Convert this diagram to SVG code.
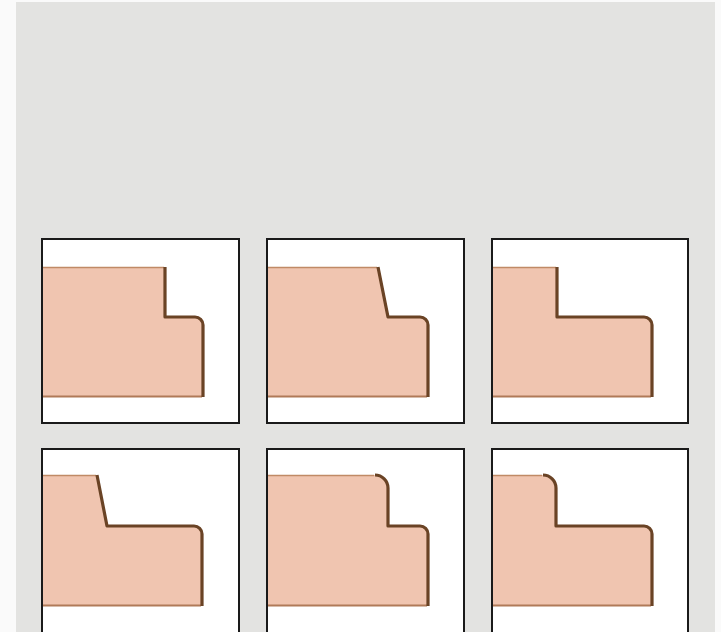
<svg xmlns="http://www.w3.org/2000/svg" width="721" height="632" viewBox="0 0 721 632">
<style>
.panel{fill:#ffffff;stroke:#1a1a1a;stroke-width:2}
.fill{fill:#f0c5b0;stroke:none}
.edge{fill:none;stroke:#6a4325;stroke-width:3.2;stroke-linejoin:round}
.top{fill:none;stroke:#c08a66;stroke-width:1.6}
.bot{fill:none;stroke:#b07a58;stroke-width:1.8}
</style>
<rect x="0" y="0" width="721" height="632" fill="#fafafa"/>
<rect x="16" y="2" width="699" height="630" fill="#e3e3e1"/>
<g id="panel1">
<rect class="panel" x="42" y="239" width="197" height="184"/>
<path class="fill" d="M43,267 H165 V317 H195 A8,8 0 0 1 203,325 V397 H43 Z"/>
<path class="top" d="M43,267.5 H164"/>
<path class="bot" d="M43,396.5 H202"/>
<path class="edge" d="M165,267 V317 H195 A8,8 0 0 1 203,325 V397"/>
</g>
<g id="panel2">
<rect class="panel" x="267" y="239" width="197" height="184"/>
<path class="fill" d="M268,267 H378 L388,317 H420 A8,8 0 0 1 428,325 V397 H268 Z"/>
<path class="top" d="M268,267.5 H377"/>
<path class="bot" d="M268,396.5 H427"/>
<path class="edge" d="M378,267 L388,317 H420 A8,8 0 0 1 428,325 V397"/>
</g>
<g id="panel3">
<rect class="panel" x="492" y="239" width="196" height="184"/>
<path class="fill" d="M493,267 H557 V317 H644 A8,8 0 0 1 652,325 V397 H493 Z"/>
<path class="top" d="M493,267.5 H556"/>
<path class="bot" d="M493,396.5 H651"/>
<path class="edge" d="M557,267 V317 H644 A8,8 0 0 1 652,325 V397"/>
</g>
<g id="panel4">
<rect class="panel" x="42" y="449" width="197" height="190"/>
<path class="fill" d="M43,475 H97 L107,526 H194 A8,8 0 0 1 202,534 V606 H43 Z"/>
<path class="top" d="M43,475.5 H96"/>
<path class="bot" d="M43,605.5 H201"/>
<path class="edge" d="M97,475 L107,526 H194 A8,8 0 0 1 202,534 V606"/>
</g>
<g id="panel5">
<rect class="panel" x="267" y="449" width="197" height="190"/>
<path class="fill" d="M268,475 H375 A13,13 0 0 1 388,488 V526 H420 A8,8 0 0 1 428,534 V606 H268 Z"/>
<path class="top" d="M268,475.5 H374"/>
<path class="bot" d="M268,605.5 H427"/>
<path class="edge" d="M375,475 A13,13 0 0 1 388,488 V526 H420 A8,8 0 0 1 428,534 V606"/>
</g>
<g id="panel6">
<rect class="panel" x="492" y="449" width="196" height="190"/>
<path class="fill" d="M493,475 H543 A13,13 0 0 1 556,488 V526 H644 A8,8 0 0 1 652,534 V606 H493 Z"/>
<path class="top" d="M493,475.5 H542"/>
<path class="bot" d="M493,605.5 H651"/>
<path class="edge" d="M543,475 A13,13 0 0 1 556,488 V526 H644 A8,8 0 0 1 652,534 V606"/>
</g>
</svg>
